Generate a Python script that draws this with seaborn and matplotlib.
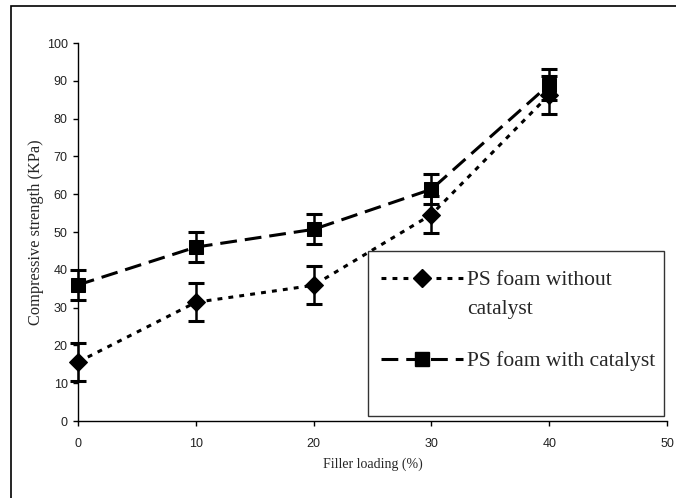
import numpy as np
import pandas as pd
import matplotlib
matplotlib.use("Agg")
import matplotlib.pyplot as plt
import seaborn as sns
from matplotlib.lines import Line2D
from matplotlib.patches import Rectangle

# ---- data ----
filler = [0, 10, 20, 30, 40]
without_cat = [15.6, 31.4, 35.9, 54.6, 86.3]
without_err = [5.0, 5.0, 5.0, 4.8, 5.0]
with_cat = [36.0, 46.0, 50.7, 61.3, 89.0]
with_err = [4.0, 4.0, 4.0, 4.0, 4.2]
series_names = ["PS foam without catalyst", "PS foam with catalyst"]
xticks = [0, 10, 20, 30, 40, 50]
yticks = [0, 10, 20, 30, 40, 50, 60, 70, 80, 90, 100]

df = pd.DataFrame({
    "Filler": filler * 2,
    "Strength": without_cat + with_cat,
    "Series": [series_names[0]] * 5 + [series_names[1]] * 5,
})

sns.set_style("ticks")
fig = plt.figure(figsize=(6.76, 4.98), dpi=100)
ax = fig.add_axes([78 / 676, 1 - 421 / 498, (667 - 78) / 676, (421 - 43) / 498])

dot_style = (0, (1.6, 2.0))
dash_style = (0, (5.5, 2.6))
lw = 2.2

sns.lineplot(data=df, x="Filler", y="Strength", hue="Series", style="Series",
             palette=["black", "black"], markers={series_names[0]: "D", series_names[1]: "s"},
             dashes={series_names[0]: (1.6, 2.0), series_names[1]: (5.5, 2.6)},
             linewidth=lw, markersize=9.5, markeredgecolor="black",
             ax=ax, legend=False, zorder=3, clip_on=False)

ax.errorbar(filler, without_cat, yerr=without_err, fmt="none", ecolor="black",
            elinewidth=1.8, capsize=6, capthick=2.2, zorder=2, clip_on=False)
ax.errorbar(filler, with_cat, yerr=with_err, fmt="none", ecolor="black",
            elinewidth=1.8, capsize=6, capthick=2.2, zorder=2, clip_on=False)

ax.set_xlim(0, 50)
ax.set_ylim(0, 100)
ax.set_xticks(xticks)
ax.set_yticks(yticks)
ax.tick_params(direction="out", length=3.5, width=1, colors="black", pad=4)
for lab in ax.get_xticklabels() + ax.get_yticklabels():
    lab.set_family("Liberation Sans")
    lab.set_fontsize(9)
    lab.set_color("#222222")
ax.tick_params(axis="x", pad=9)
for s in ["top", "right"]:
    ax.spines[s].set_visible(False)
for s in ["left", "bottom"]:
    ax.spines[s].set_linewidth(1)
    ax.spines[s].set_color("black")

ax.set_xlabel("Filler loading (%)", family="Liberation Serif", fontsize=10, labelpad=5)
ax.set_ylabel("Compressive strength (KPa)", family="Liberation Serif", fontsize=11.8, labelpad=2)

# legend box
ax.add_patch(Rectangle((290 / 589, 5 / 378), (586 - 290) / 589, (170 - 5) / 378,
                       transform=ax.transAxes, fill=False, edgecolor="#333333",
                       linewidth=1, zorder=5))

h1 = Line2D([], [], color="black", linestyle=dot_style, linewidth=lw,
            marker="D", markersize=9.5)
h2 = Line2D([], [], color="black", linestyle=dash_style, linewidth=lw,
            marker="s", markersize=9.5)
leg = fig.legend([h1, h2], ["PS foam without", "PS foam with catalyst"],
                 loc="upper left", bbox_to_anchor=(381 / 676, 1 - 270 / 498),
                 frameon=False, borderpad=0, borderaxespad=0,
                 handlelength=3.8, handletextpad=0.2, labelspacing=2.85,
                 prop={"family": "Liberation Serif", "size": 15.5})
fig.text(467 / 676, 1 - 309 / 498, "catalyst", family="Liberation Serif",
         fontsize=15.5, va="center", ha="left")

# outer frame (only left and top visible)
fig.patches.append(Rectangle((11 / 676, -0.05), 1.2, 1 - 5.5 / 498 + 0.05,
                             transform=fig.transFigure, fill=False,
                             edgecolor="black", linewidth=1.2))

fig.savefig("out.png", dpi=100)
